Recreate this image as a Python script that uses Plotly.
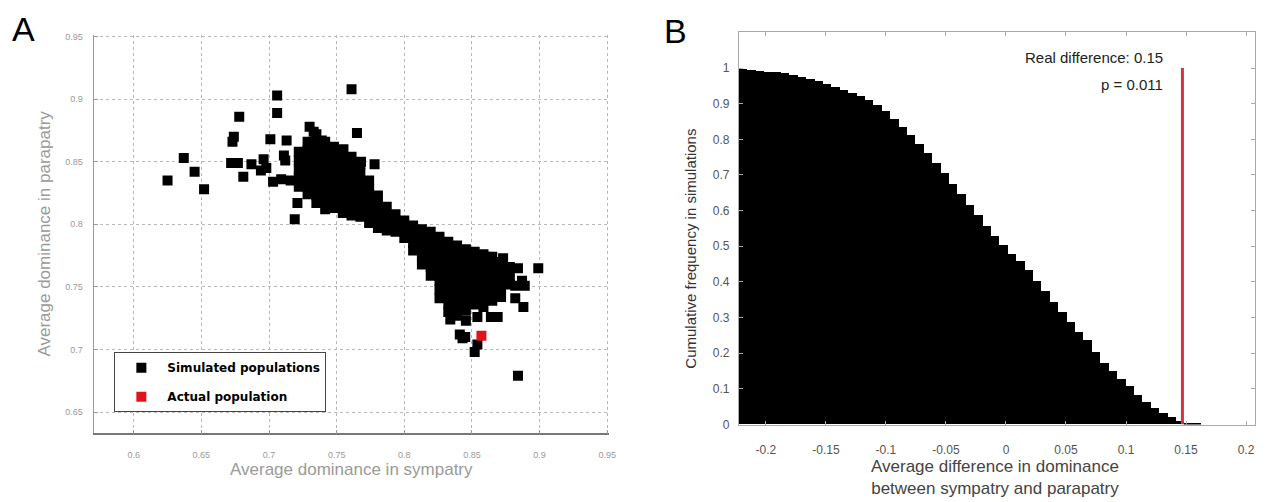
import plotly.graph_objects as go

# ---------------- Panel A data ----------------
sim_x = [
    0.625, 0.637, 0.645, 0.652, 0.672, 0.677, 0.673, 0.674, 0.678, 0.681, 0.687,
    0.696, 0.698, 0.694, 0.701, 0.706, 0.706, 0.703, 0.709, 0.713, 0.711, 0.712, 0.716, 0.719, 0.721,
    0.730, 0.733, 0.739, 0.761, 0.765, 0.755, 0.768, 0.778,
    0.860, 0.873, 0.884, 0.899, 0.882, 0.889, 0.887, 0.882, 0.888, 0.869, 0.864, 0.854, 0.834,
    0.843, 0.845, 0.841, 0.852, 0.854, 0.884,
    0.7220, 0.7220, 0.7220, 0.7220, 0.7220,
    0.7285, 0.7285, 0.7285, 0.7285, 0.7285, 0.7285, 0.7285,
    0.7350, 0.7350, 0.7350, 0.7350, 0.7350, 0.7350, 0.7350, 0.7350, 0.7350,
    0.7415, 0.7415, 0.7415, 0.7415, 0.7415, 0.7415, 0.7415, 0.7415, 0.7415,
    0.7480, 0.7480, 0.7480, 0.7480, 0.7480, 0.7480, 0.7480, 0.7480,
    0.7545, 0.7545, 0.7545, 0.7545, 0.7545, 0.7545, 0.7545, 0.7545,
    0.7610, 0.7610, 0.7610, 0.7610, 0.7610, 0.7610, 0.7610, 0.7610,
    0.7675, 0.7675, 0.7675, 0.7675, 0.7675, 0.7675, 0.7675,
    0.7740, 0.7740, 0.7740, 0.7740, 0.7740, 0.7740,
    0.7805, 0.7805, 0.7805, 0.7805, 0.7805,
    0.7870, 0.7870, 0.7870, 0.7870,
    0.7935, 0.7935, 0.7935,
    0.8000, 0.8000, 0.8000,
    0.8065, 0.8065, 0.8065, 0.8065,
    0.8130, 0.8130, 0.8130, 0.8130, 0.8130,
    0.8195, 0.8195, 0.8195, 0.8195, 0.8195, 0.8195,
    0.8260, 0.8260, 0.8260, 0.8260, 0.8260, 0.8260, 0.8260, 0.8260,
    0.8325, 0.8325, 0.8325, 0.8325, 0.8325, 0.8325, 0.8325, 0.8325, 0.8325,
    0.8390, 0.8390, 0.8390, 0.8390, 0.8390, 0.8390, 0.8390, 0.8390, 0.8390,
    0.8455, 0.8455, 0.8455, 0.8455, 0.8455, 0.8455, 0.8455, 0.8455, 0.8455,
    0.8520, 0.8520, 0.8520, 0.8520, 0.8520, 0.8520, 0.8520,
    0.8585, 0.8585, 0.8585, 0.8585, 0.8585, 0.8585, 0.8585,
    0.8650, 0.8650, 0.8650, 0.8650, 0.8650, 0.8650,
    0.8715, 0.8715, 0.8715, 0.8715, 0.8715,
    0.8780, 0.8780, 0.8780,
]
sim_y = [
    0.835, 0.853, 0.842, 0.828, 0.849, 0.849, 0.866, 0.870, 0.886, 0.838, 0.848,
    0.852, 0.845, 0.843, 0.868, 0.903, 0.889, 0.834, 0.836, 0.867, 0.855, 0.851, 0.835, 0.804, 0.817,
    0.878, 0.874, 0.867, 0.908, 0.873, 0.860, 0.850, 0.848,
    0.774, 0.773, 0.765, 0.765, 0.751, 0.751, 0.755, 0.741, 0.734, 0.726, 0.726, 0.726, 0.724,
    0.709, 0.710, 0.712, 0.698, 0.704, 0.679,
    0.858, 0.851, 0.844, 0.837, 0.830,
    0.866, 0.859, 0.852, 0.845, 0.838, 0.831, 0.824,
    0.872, 0.865, 0.858, 0.851, 0.844, 0.837, 0.830, 0.823, 0.817,
    0.866, 0.859, 0.852, 0.845, 0.838, 0.831, 0.824, 0.817, 0.812,
    0.862, 0.855, 0.848, 0.841, 0.834, 0.827, 0.820, 0.813,
    0.858, 0.851, 0.844, 0.837, 0.830, 0.823, 0.816, 0.809,
    0.854, 0.847, 0.840, 0.833, 0.826, 0.819, 0.812, 0.807,
    0.848, 0.841, 0.834, 0.827, 0.820, 0.813, 0.806,
    0.835, 0.828, 0.821, 0.814, 0.807, 0.801,
    0.823, 0.816, 0.809, 0.802, 0.797,
    0.814, 0.807, 0.800, 0.795,
    0.808, 0.801, 0.794,
    0.803, 0.796, 0.789,
    0.799, 0.792, 0.785, 0.779,
    0.796, 0.789, 0.782, 0.775, 0.768,
    0.794, 0.787, 0.780, 0.773, 0.766, 0.759,
    0.790, 0.783, 0.776, 0.769, 0.762, 0.755, 0.748, 0.741,
    0.786, 0.779, 0.772, 0.765, 0.758, 0.751, 0.744, 0.737, 0.730,
    0.783, 0.776, 0.769, 0.762, 0.755, 0.748, 0.741, 0.734, 0.727,
    0.780, 0.773, 0.766, 0.759, 0.752, 0.745, 0.738, 0.731, 0.723,
    0.778, 0.771, 0.764, 0.757, 0.750, 0.743, 0.736,
    0.776, 0.769, 0.762, 0.755, 0.748, 0.741, 0.734,
    0.774, 0.767, 0.760, 0.753, 0.746, 0.739,
    0.770, 0.763, 0.756, 0.749, 0.742,
    0.766, 0.759, 0.752,
]
actual_x = [0.857]
actual_y = [0.711]

a_ticks = [0.6, 0.65, 0.7, 0.75, 0.8, 0.85, 0.9, 0.95]
a_yticks = [0.65, 0.7, 0.75, 0.8, 0.85, 0.9, 0.95]

# ---------------- Panel B data ----------------
bin_centers = [
    -0.219, -0.212, -0.205, -0.198, -0.191, -0.184, -0.177, -0.170, -0.163, -0.156,
    -0.149, -0.142, -0.135, -0.128, -0.121, -0.114, -0.107, -0.100, -0.093, -0.086,
    -0.079, -0.072, -0.065, -0.058, -0.051, -0.044, -0.037, -0.030, -0.023, -0.016,
    -0.009, -0.002, 0.005, 0.012, 0.019, 0.026, 0.033, 0.040, 0.047, 0.054,
    0.061, 0.068, 0.075, 0.082, 0.089, 0.096, 0.103, 0.110, 0.117, 0.124,
    0.131, 0.138, 0.145, 0.152, 0.159,
]
cum_freq = [
    0.995, 0.993, 0.991, 0.989, 0.987, 0.984, 0.980, 0.975, 0.969, 0.962,
    0.954, 0.946, 0.938, 0.930, 0.920, 0.908, 0.895, 0.878, 0.857, 0.834,
    0.810, 0.786, 0.761, 0.733, 0.704, 0.674, 0.645, 0.616, 0.587, 0.557,
    0.528, 0.502, 0.478, 0.458, 0.432, 0.403, 0.373, 0.344, 0.316, 0.287,
    0.260, 0.235, 0.203, 0.173, 0.150, 0.126, 0.106, 0.082, 0.062, 0.046,
    0.031, 0.019, 0.009, 0.003, 0.001,
]
bin_width = 0.007
real_diff_x = [0.147, 0.147]
real_diff_y = [0, 1]
b_xticks = [-0.2, -0.15, -0.1, -0.05, 0, 0.05, 0.1, 0.15, 0.2]
b_xticklabels = ["-0.2", "-0.15", "-0.1", "-0.05", "0", "0.05", "0.1", "0.15", "0.2"]
b_yticks = [0, 0.1, 0.2, 0.3, 0.4, 0.5, 0.6, 0.7, 0.8, 0.9, 1]
b_yticklabels = ["0", "0.1", "0.2", "0.3", "0.4", "0.5", "0.6", "0.7", "0.8", "0.9", "1"]

FONT = "Liberation Sans, Arial, Helvetica, sans-serif"
W, H = 1269, 502

fig = go.Figure()
fig.add_trace(go.Scatter(
    x=sim_x, y=sim_y, mode="markers", name="Simulated populations",
    marker=dict(symbol="square", size=10, color="black", line=dict(width=0)),
    xaxis="x", yaxis="y", legendgroup="a",
))
fig.add_trace(go.Scatter(
    x=actual_x, y=actual_y, mode="markers", name="Actual population",
    marker=dict(symbol="square", size=10, color="#e0141c", line=dict(width=0)),
    xaxis="x", yaxis="y", legendgroup="b",
))
fig.add_trace(go.Bar(
    x=bin_centers, y=cum_freq, width=bin_width, marker=dict(color="black", line=dict(width=0)),
    xaxis="x2", yaxis="y2", showlegend=False,
))
fig.add_trace(go.Scatter(
    x=real_diff_x, y=real_diff_y, mode="lines", line=dict(color="#d8323c", width=3),
    xaxis="x2", yaxis="y2", showlegend=False,
))

def px_x(p):
    return p / W

def px_y(p):
    return 1 - p / H

grid_a = dict(showgrid=True, gridcolor="#b8b8b8", griddash="dot", gridwidth=1)
fig.update_layout(
    width=W, height=H, margin=dict(l=0, r=0, t=0, b=0),
    paper_bgcolor="white", plot_bgcolor="white",
    font=dict(family=FONT),
    bargap=0,
    xaxis=dict(domain=[px_x(95), px_x(612)], range=[0.571, 0.951], tickvals=a_ticks,
               ticktext=[str(v) for v in a_ticks], tickfont=dict(size=9, color="#9a9a9a"),
               showline=True, linecolor="#777", linewidth=1.5, ticks="inside", ticklen=4,
               tickcolor="#999", zeroline=False, anchor="y", ticklabelstandoff=12, **grid_a),
    yaxis=dict(domain=[px_y(439), px_y(32)], range=[0.633, 0.951], tickvals=a_yticks,
               ticktext=[str(v) for v in a_yticks], tickfont=dict(size=9, color="#9a9a9a"),
               showline=True, linecolor="#999", linewidth=1, ticks="inside", ticklen=4,
               tickcolor="#999", zeroline=False, anchor="x", ticklabelstandoff=9, **grid_a),
    xaxis2=dict(domain=[px_x(743), px_x(1262)], range=[-0.2225, 0.2075], tickvals=b_xticks,
                ticktext=b_xticklabels, tickfont=dict(size=12, color="#555"),
                showline=True, mirror="ticks", linecolor="#aaa", linewidth=1,
                ticks="inside", ticklen=4, tickcolor="#aaa", showgrid=False, zeroline=False,
                anchor="y2", ticklabelstandoff=14),
    yaxis2=dict(domain=[px_y(430), px_y(29)], range=[0, 1.1], tickvals=b_yticks,
                ticktext=b_yticklabels, tickfont=dict(size=12, color="#555"),
                showline=True, mirror="ticks", linecolor="#aaa", linewidth=1,
                ticks="inside", ticklen=4, tickcolor="#aaa", showgrid=False, zeroline=False,
                anchor="x2", ticklabelstandoff=6),
    legend=dict(x=px_x(115), y=px_y(356), xanchor="left", yanchor="top",
                bgcolor="white", bordercolor="#444", borderwidth=1,
                font=dict(size=12, color="black", family="DejaVu Sans, sans-serif",
                          weight="bold"),
                tracegroupgap=10, itemwidth=42),
    showlegend=True,
)

ann = [
    dict(text="A", x=px_x(10), y=px_y(4), xanchor="left", yanchor="top",
         font=dict(size=34, color="black")),
    dict(text="B", x=px_x(666), y=px_y(6), xanchor="left", yanchor="top",
         font=dict(size=34, color="black")),
    dict(text="Average dominance in sympatry", x=px_x(353), y=px_y(476),
         xanchor="center", yanchor="middle", font=dict(size=17, color="#9a9a9a")),
    dict(text="Average dominance in parapatry", x=px_x(45), y=px_y(235),
         xanchor="center", yanchor="middle", textangle=-90, font=dict(size=17, color="#9a9a9a")),
    dict(text="Cumulative frequency in simulations", x=px_x(694), y=px_y(250),
         xanchor="center", yanchor="middle", textangle=-90, font=dict(size=15, color="#333")),
    dict(text="Average difference in dominance<br>between sympatry and parapatry",
         x=px_x(1001), y=px_y(484), xanchor="center", yanchor="middle",
         font=dict(size=17, color="#444")),
    dict(text="Real difference: 0.15", x=px_x(1171), y=px_y(55), xanchor="right",
         yanchor="middle", font=dict(size=15, color="#222")),
    dict(text="p = 0.011", x=px_x(1171), y=px_y(82), xanchor="right",
         yanchor="middle", font=dict(size=15, color="#222")),
]
for a in ann:
    a.update(xref="paper", yref="paper", showarrow=False)
fig.update_layout(annotations=ann)

fig.write_html("out.html")
